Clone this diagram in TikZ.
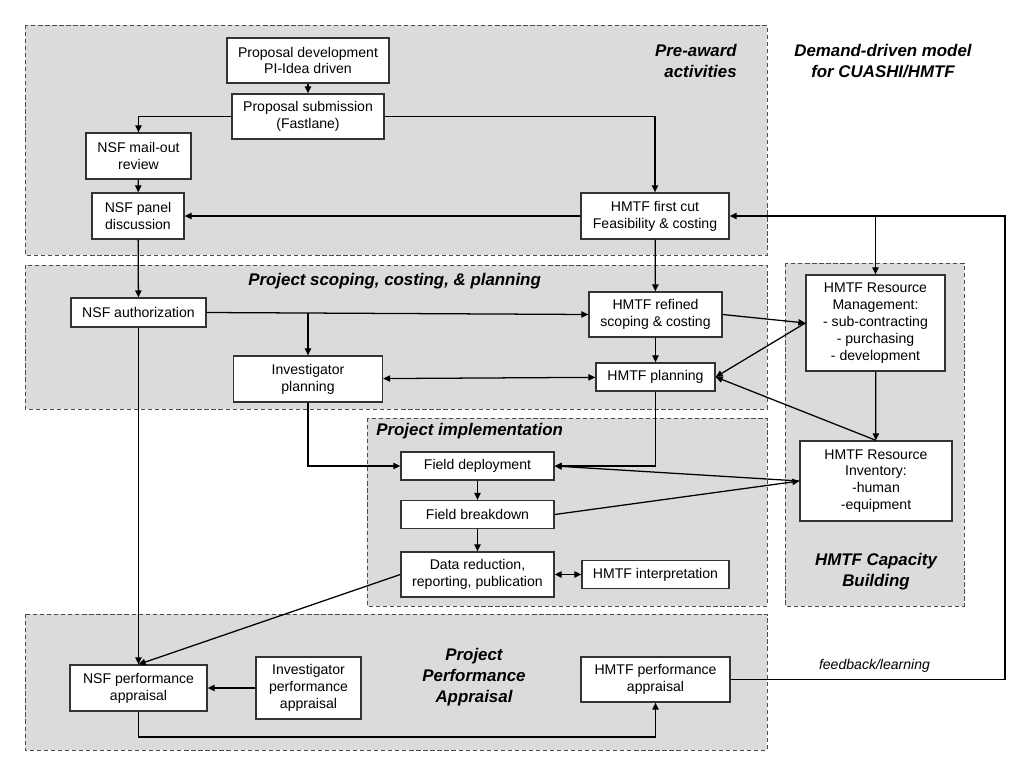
\documentclass[tikz,border=0pt]{standalone}
\usepackage{fontspec}
\setmainfont{Liberation Sans}
\usetikzlibrary{arrows.meta}

\begin{document}
\begin{tikzpicture}[x=0.025cm, y=-0.025cm,
  >={Triangle[length=5pt,width=4.5pt]}, line width=0.9pt,
  box/.style={draw=black!80, fill=white, align=center, inner sep=1pt, line width=0.9pt, font=\fontsize{10}{12}\selectfont},
  region/.style={draw=black!70, fill=black!14, line width=0.7pt, dash pattern=on 3pt off 2pt},
  title/.style={font=\fontsize{12}{15}\selectfont\bfseries\itshape, align=center}]
\useasboundingbox (0,0) rectangle (1024,768);

\draw[region] (25,25) rectangle (767,255);
\draw[region] (25,265) rectangle (767,409);
\draw[region] (367,418) rectangle (767,606);
\draw[region] (785,263) rectangle (964,606);
\draw[region] (25,614) rectangle (767,750);

\node[title, anchor=east, align=right] (preaward) at (742,61) {Pre-award\\activities};
\node[title] (model) at (883,61) {Demand-driven model\\for CUASHI/HMTF};
\node[title, anchor=west] (scoping) at (243,281) {Project scoping, costing, \& planning};
\node[title, anchor=west] (impl) at (371,431) {Project implementation};
\node[title] (capacity) at (876,572) {HMTF Capacity\\Building};
\node[title] (appraisal) at (474,677) {Project\\Performance\\Appraisal};

\node[box, minimum width=4.05cm, minimum height=1.125cm] (propdev) at (308,60.5) {Proposal development\\PI-Idea driven};
\node[box, minimum width=3.8cm, minimum height=1.125cm] (propsub) at (308,116.5) {Proposal submission\\(Fastlane)};
\node[box, minimum width=2.625cm, minimum height=1.15cm] (mailout) at (138.5,156) {NSF mail-out\\review};
\node[box, minimum width=2.3cm, minimum height=1.15cm] (panel) at (138,216) {NSF panel\\discussion};
\node[box, minimum width=3.7cm, minimum height=1.15cm] (firstcut) at (655,216) {HMTF first cut\\Feasibility \& costing};

\node[box, minimum width=3.375cm, minimum height=0.725cm] (nsfauth) at (138.5,312.5) {NSF authorization};
\node[box, minimum width=3.725cm, minimum height=1.15cm] (invplan) at (308,379) {Investigator\\planning};
\node[box, minimum width=3.325cm, minimum height=1.125cm] (refined) at (655.5,314.5) {HMTF refined\\scoping \& costing};
\node[box, minimum width=2.975cm, minimum height=0.7cm] (hmtfplan) at (655.5,377) {HMTF planning};

\node[box, minimum width=3.475cm, minimum height=2.4cm] (resmgmt) at (875.5,323) {HMTF Resource\\Management:\\- sub-contracting\\- purchasing\\- development};
\node[box, minimum width=3.8cm, minimum height=2cm] (resinv) at (876,481) {HMTF Resource\\Inventory:\\-human\\-equipment};

\node[box, minimum width=3.825cm, minimum height=0.7cm] (deploy) at (477.5,466) {Field deployment};
\node[box, minimum width=3.825cm, minimum height=0.7cm] (breakdown) at (477.5,514.5) {Field breakdown};
\node[box, minimum width=3.825cm, minimum height=1.125cm] (datared) at (477.5,574.5) {Data reduction,\\reporting, publication};
\node[box, minimum width=3.675cm, minimum height=0.7cm] (interp) at (655.5,574.5) {HMTF interpretation};

\node[box, minimum width=3.425cm, minimum height=1.15cm] (nsfperf) at (138.5,688) {NSF performance\\appraisal};
\node[box, minimum width=2.625cm, minimum height=1.55cm] (invperf) at (308.5,688) {Investigator\\performance\\appraisal};
\node[box, minimum width=3.725cm, minimum height=1.125cm] (hmtfperf) at (655.5,679.5) {HMTF performance\\appraisal};

\node[font=\fontsize{10}{12}\selectfont\itshape] (fblabel) at (874.5,666) {feedback/learning};

\coordinate (loopbot) at (138.5,737);
\coordinate (fbturn) at (1005,216);

\draw[->] (propdev) -- (propsub);
\draw[->] (propsub.west) -| (mailout);
\draw[->] (propsub.east) -| (firstcut);
\draw[->] (mailout) -- (panel);
\draw[->] (firstcut) -- (panel);
\draw[->] (panel) -- (nsfauth);
\draw[->] (firstcut) -- (refined);

\draw[->] (nsfauth.east) -- (refined.west);
\draw[->] (invplan.north |- nsfauth.east) -- (invplan);
\draw[->] (nsfauth) -- (nsfperf);
\draw[<->] (invplan) -- (hmtfplan);
\draw[->] (refined) -- (hmtfplan);
\draw[->] (refined.east) -- (resmgmt.west);
\draw[->] (resmgmt.west) -- (hmtfplan.east);
\draw[->] (resinv.north) -- (hmtfplan.east);
\draw[->] (resmgmt) -- (resinv);

\draw[->] (hmtfplan) |- (deploy);
\draw[->] (invplan) |- (deploy);
\draw[->] (resinv.west) -- (deploy.east);
\draw[->] (breakdown.east) -- (resinv.west);
\draw[->] (deploy) -- (breakdown);
\draw[->] (breakdown) -- (datared);
\draw[<->] (datared) -- (interp);

\draw[->] (datared.west) -- (nsfperf.north);
\draw[->] (invperf) -- (nsfperf);
\draw[->] (nsfperf) -- (loopbot) -| (hmtfperf);
\draw[->] (hmtfperf.east) -| (fbturn) -- (firstcut.east);
\draw[->] (resmgmt.north |- firstcut.east) -- (resmgmt);
\end{tikzpicture}
\end{document}
